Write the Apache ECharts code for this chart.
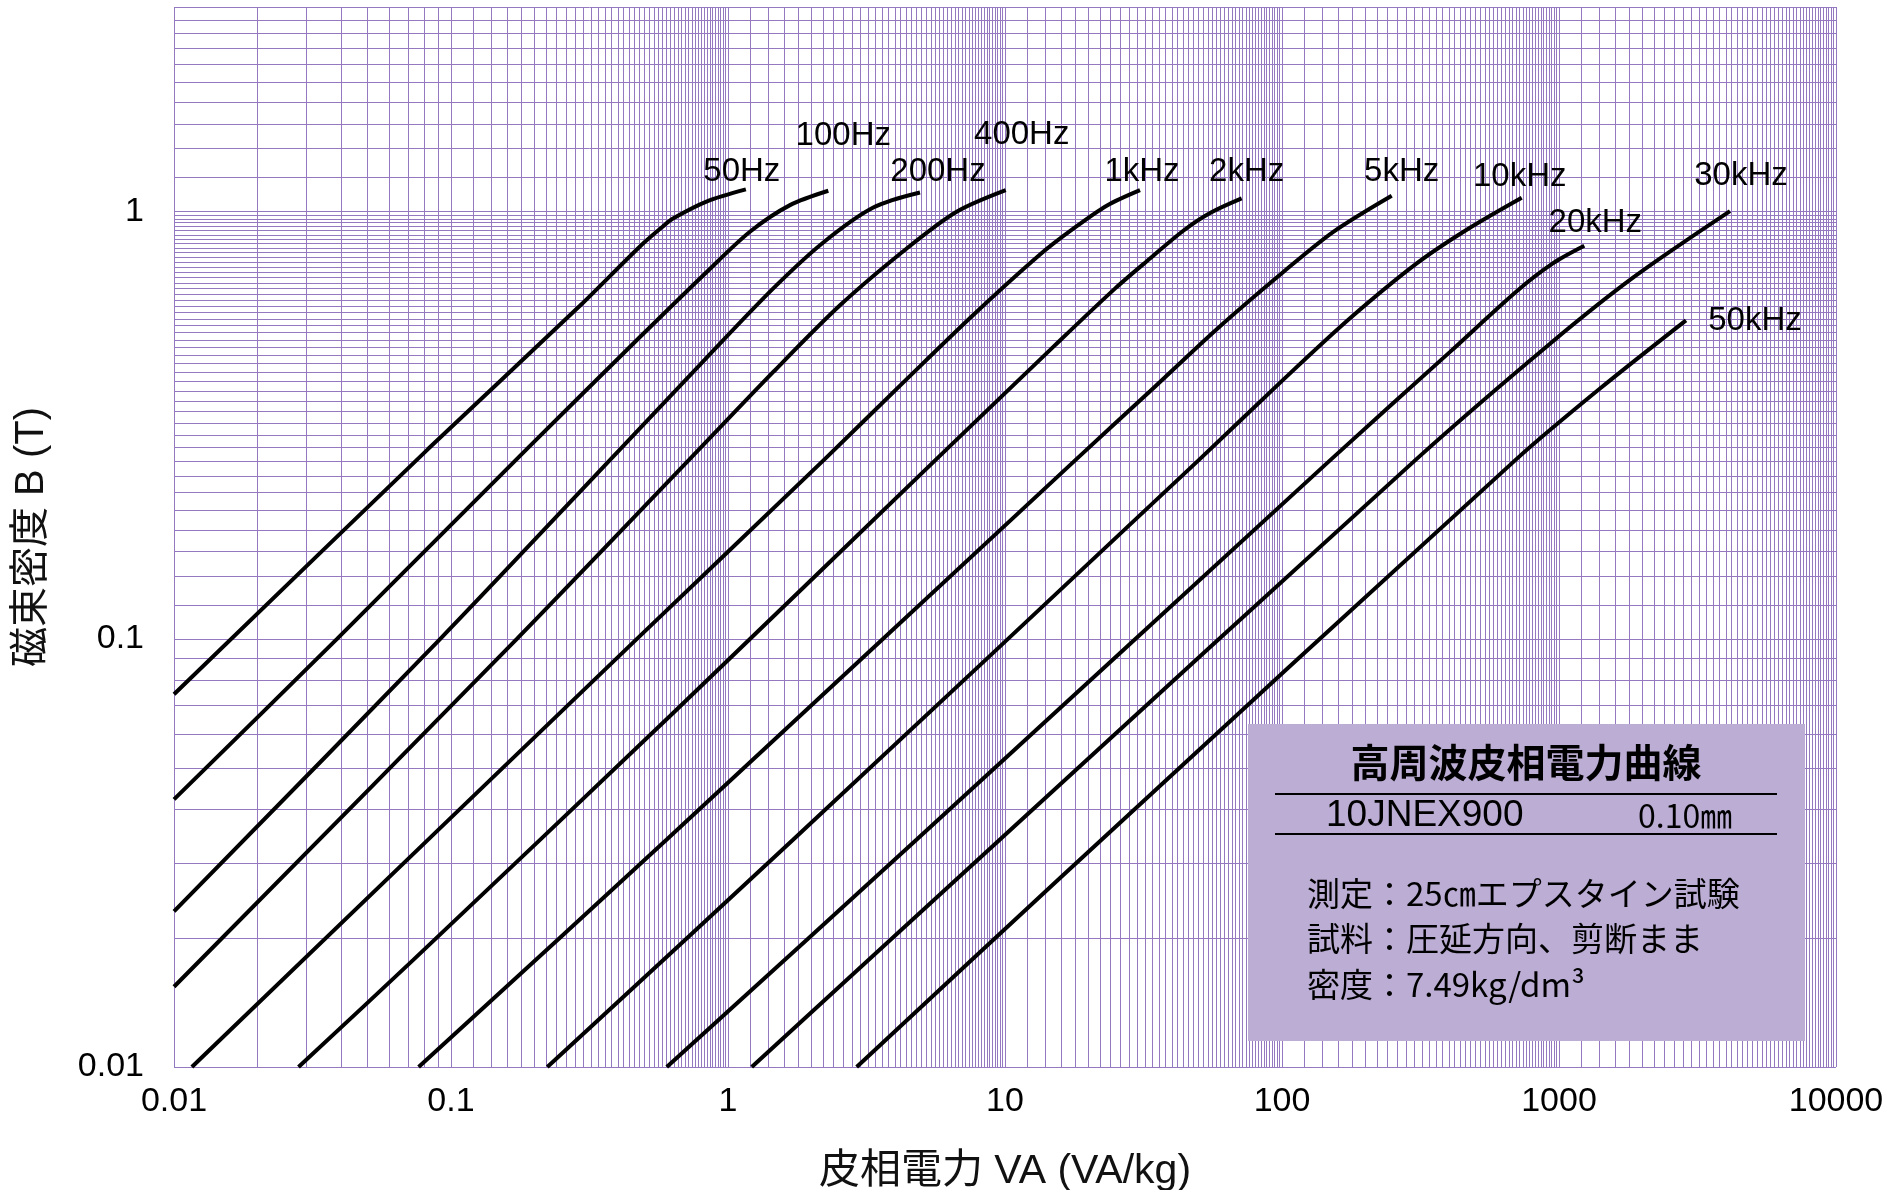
<!DOCTYPE html>
<html><head><meta charset="utf-8">
<script src="https://cdn.jsdelivr.net/npm/echarts@6/dist/echarts.min.js"></script>
<style>html,body{margin:0;padding:0;background:#fff}#c{width:1903px;height:1190px}</style>
</head><body><div id="c"></div>
<script>
// ---- data ----
const xTickValues = [0.01, 0.1, 1, 10, 100, 1000, 10000];
const xTickLabels = ['0.01', '0.1', '1', '10', '100', '1000', '10000'];
const yTickValues = [0.01, 0.1, 1];
const yTickLabels = ['0.01', '0.1', '1'];
const seriesNames = ['50Hz', '100Hz', '200Hz', '400Hz', '1kHz', '2kHz', '5kHz', '10kHz', '20kHz', '30kHz', '50kHz'];

// [apparent power VA (VA/kg), flux density B (T)]
const b50Hz  = [[0.01,0.0743],[0.0826,0.278],[0.292,0.601],[0.481,0.827],[0.582,0.921],[0.633,0.961],[0.84,1.054],[1.16,1.124]];
const b100Hz = [[0.01,0.0422],[0.0387,0.1],[0.1877,0.278],[0.481,0.508],[0.838,0.721],[1.20,0.895],[1.674,1.033],[2.302,1.116]];
const b200Hz = [[0.01,0.0231],[0.0913,0.1],[0.402,0.275],[0.838,0.455],[1.457,0.66],[2.208,0.845],[3.346,1.02],[4.933,1.106]];
const b400Hz = [[0.01,0.0154],[0.1726,0.1],[0.729,0.2637],[1.457,0.421],[2.537,0.6026],[4.417,0.818],[6.69,0.997],[10.06,1.12]];
const b1kHz  = [[0.0116,0.01],[0.468,0.1],[2.24,0.2637],[4.417,0.405],[7.68,0.572],[13.38,0.792],[17.64,0.91],[23.29,1.03],[30.72,1.12]];
const b2kHz  = [[0.02815,0.01],[0.0731,0.0178],[0.6175,0.0661],[5.667,0.2637],[15,0.483],[25,0.66],[33.38,0.775],[44.02,0.9],[55,0.99],[71.5,1.071]];
const b5kHz  = [[0.0764,0.01],[0.601,0.034],[18.15,0.2637],[33.38,0.3795],[58.13,0.53],[101.1,0.721],[153.2,0.895],[248.9,1.087]];
const b10kHz = [[0.2227,0.01],[1.721,0.034],[50.6,0.2637],[101.1,0.404],[176.0,0.562],[306.4,0.755],[464.4,0.905],[733.4,1.075]];
const b20kHz = [[0.601,0.01],[4.80,0.034],[151.1,0.2637],[404.2,0.469],[703.6,0.65],[950,0.755],[1234,0.83]];
const b30kHz = [[1.218,0.01],[9.59,0.034],[306.4,0.2637],[928,0.49],[1855,0.70],[4143,1.0]];
const b50kHz = [[2.914,0.01],[15.8,0.02766],[703.6,0.2637],[1406,0.385],[2874,0.5556]];
const curves = [b50Hz, b100Hz, b200Hz, b400Hz, b1kHz, b2kHz, b5kHz, b10kHz, b20kHz, b30kHz, b50kHz];

// ---- styling ----
const labelOffsets = [[-4,-18],[15,-55],[18,-21],[16,-55],[2,-18],[5,-27],[10,-24],[-2,-21],[11,-23],[11,-35],[69,1]];
const gridColor = '#9479c0';
const latin = "'Liberation Sans', Arial, 'Noto Sans CJK JP', sans-serif";
const jp = "'Noto Sans CJK JP', 'Liberation Sans', sans-serif";

// log-paper grid lines: 1.0, 1.2, ... 9.8 in every decade
function paperLines(minExp, maxExp, maxVal) {
  const out = [];
  for (let e = minExp; e < maxExp; e++) {
    for (let k = 10; k < 100; k += 2) {
      const v = +((k / 10) * Math.pow(10, e)).toPrecision(6);
      if (v <= maxVal * 1.00001) out.push(v);
    }
  }
  if (out[out.length - 1] < maxVal) out.push(maxVal);
  return out;
}
const xLines = paperLines(-2, 4, 10000);
const yLines = paperLines(-2, 1, 3);

function fmt(values, labels) {
  return function (v) {
    for (let i = 0; i < values.length; i++) {
      if (Math.abs(v - values[i]) / values[i] < 1e-6) return labels[i];
    }
    return '';
  };
}

const chart = echarts.init(document.getElementById('c'), null, {renderer: 'canvas'});

const series = [{
  type: 'line', data: [], silent: true, z: 1, zlevel: 0,
  markLine: {
    silent: true, symbol: ['none', 'none'], animation: false,
    label: {show: false},
    lineStyle: {color: gridColor, width: 1, type: 'solid', opacity: 1},
    emphasis: {disabled: true},
    data: xLines.map(v => ({xAxis: v})).concat(yLines.map(v => ({yAxis: v})))
  }
}];
curves.forEach((d, i) => {
  const last = d[d.length - 1];
  series.push({
    name: seriesNames[i], type: 'line', data: d, z: 10, zlevel: 1,
    showSymbol: false, symbol: 'none', smooth: 0.3,
    lineStyle: {color: '#000', width: 4},
    emphasis: {disabled: true},
    markPoint: {
      silent: true, symbol: 'circle', symbolSize: 1, animation: false,
      itemStyle: {color: 'rgba(0,0,0,0)'},
      label: {show: true, position: 'inside', offset: labelOffsets[i],
        formatter: seriesNames[i], color: '#000', fontSize: 33, fontFamily: latin},
      data: [{coord: last}]
    }
  });
});

const boxText = {fill: '#000', textAlign: 'left', textVerticalAlign: 'middle'};
const option = {
  animation: false,
  backgroundColor: '#fff',
  grid: {left: 174, right: 67, top: 7, bottom: 123, containLabel: false, outerBoundsMode: 'none'},
  xAxis: {
    type: 'log', logBase: 10, min: 0.01, max: 10000,
    name: '皮相電力 VA (VA/kg)', nameLocation: 'middle', nameGap: 84,
    nameTextStyle: {fontSize: 41, color: '#111', fontFamily: latin},
    axisLine: {show: false}, axisTick: {show: false}, splitLine: {show: false},
    axisLabel: {fontSize: 34, color: '#000', fontFamily: latin, margin: 18,
      formatter: fmt(xTickValues, xTickLabels), showMinLabel: true, showMaxLabel: true}
  },
  yAxis: {
    type: 'log', logBase: 10, min: 0.01, max: 3,
    name: '磁束密度 B (T)', nameLocation: 'middle', nameGap: 122, nameRotate: 90,
    nameTextStyle: {fontSize: 40, color: '#111', fontFamily: latin},
    axisLine: {show: false}, axisTick: {show: false}, splitLine: {show: false},
    axisLabel: {fontSize: 34, color: '#000', fontFamily: latin, margin: 30,
      formatter: fmt(yTickValues, yTickLabels), showMaxLabel: false}
  },
  graphic: [
    {type: 'rect', zlevel: 2, z: 100, shape: {x: 1248, y: 724, width: 557, height: 317}, style: {fill: '#bcadd4'}},
    {type: 'text', zlevel: 2, z: 101, x: 1526, y: 762, style: {text: '高周波皮相電力曲線', font: 'bold 39px ' + jp, fill: '#000', textAlign: 'center', textVerticalAlign: 'middle'}},
    {type: 'line', zlevel: 2, z: 101, shape: {x1: 1275, y1: 794, x2: 1777, y2: 794}, style: {stroke: '#000', lineWidth: 2}},
    {type: 'text', zlevel: 2, z: 101, x: 1326, y: 816, style: Object.assign({text: '10JNEX900', font: '37px ' + latin}, boxText)},
    {type: 'text', zlevel: 2, z: 101, x: 1638, y: 816, style: Object.assign({text: '0.10㎜', font: '32px ' + jp}, boxText)},
    {type: 'line', zlevel: 2, z: 101, shape: {x1: 1275, y1: 834, x2: 1777, y2: 834}, style: {stroke: '#000', lineWidth: 2}},
    {type: 'text', zlevel: 2, z: 101, x: 1307, y: 893, style: Object.assign({text: '測定：25㎝エプスタイン試験', font: '33px ' + jp}, boxText)},
    {type: 'text', zlevel: 2, z: 101, x: 1307, y: 938, style: Object.assign({text: '試料：圧延方向、剪断まま', font: '33px ' + jp}, boxText)},
    {type: 'text', zlevel: 2, z: 101, x: 1307, y: 984, style: Object.assign({text: '密度：7.49kg/dm³', font: '33px ' + jp}, boxText)}
  ],
  series: series
};
chart.setOption(option);
</script>
</body></html>
